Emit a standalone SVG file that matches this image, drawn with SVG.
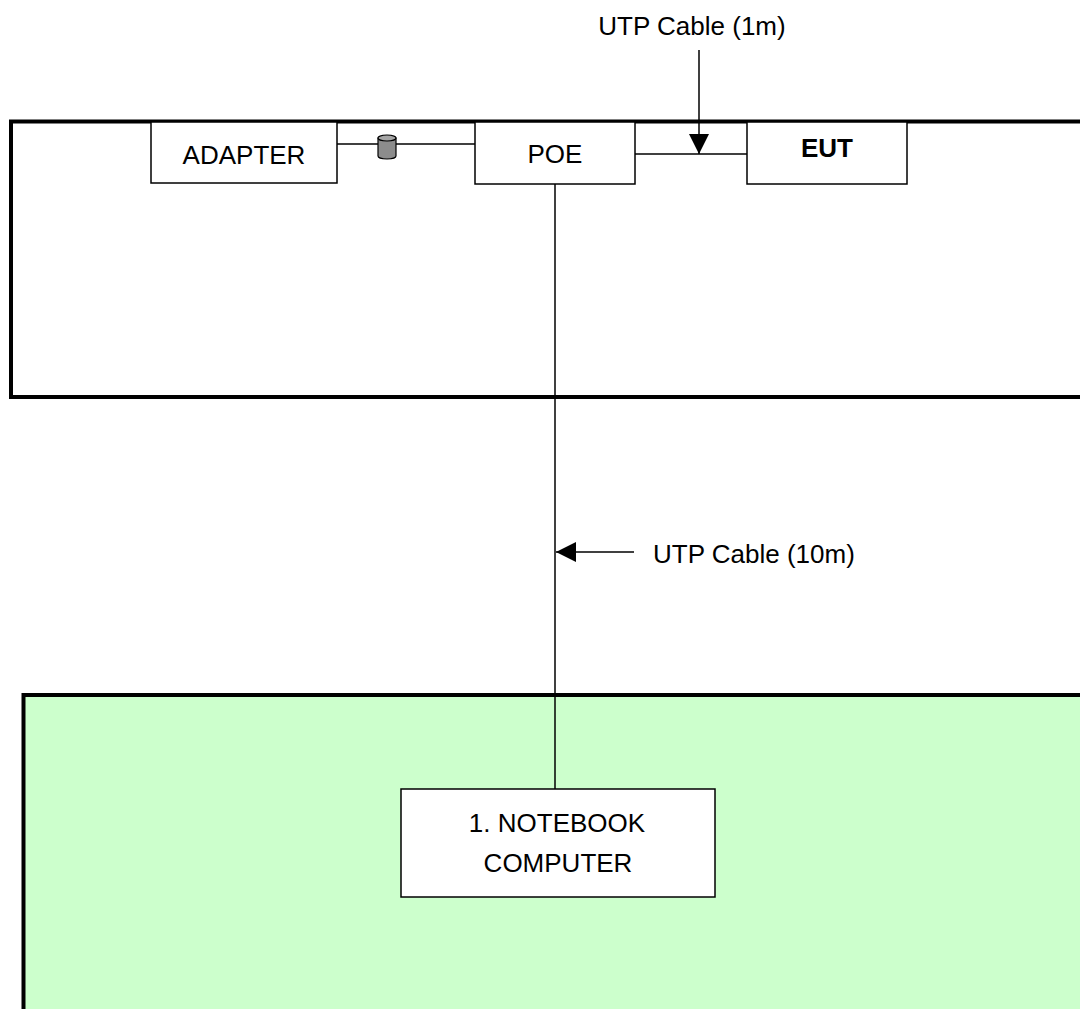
<svg xmlns="http://www.w3.org/2000/svg" width="1080" height="1009" viewBox="0 0 1080 1009">
<style>
.frame{fill:none;stroke:#000;stroke-width:4}
.box{fill:#fff;stroke:#000;stroke-width:1.5}
.ln{fill:none;stroke:#000;stroke-width:1.5}
text{font-family:"Liberation Sans",Arial,sans-serif;font-size:26px;fill:#000}
</style>
<defs>
<marker id="ah" viewBox="0 0 20 20" refX="20" refY="10" markerWidth="20" markerHeight="20" markerUnits="userSpaceOnUse" orient="auto">
<path d="M0,0 L20,10 L0,20 Z" fill="#000"/>
</marker>
</defs>
<rect x="0" y="0" width="1080" height="1009" fill="#fff"/>
<g id="frame-top"><path class="frame" d="M1082,121.5 H11 V397 H1082"/></g>
<g id="frame-bottom"><path d="M1082,695 H23.5 V1012 H1082 Z" fill="#ccffcc"/><path class="frame" d="M1082,695 H23.5 V1012"/></g>
<g id="connectors">
<line class="ln" x1="337" y1="144" x2="475" y2="144"/>
<line class="ln" x1="635" y1="154" x2="747" y2="154"/>
<line class="ln" x1="555" y1="184" x2="555" y2="789"/>
<line class="ln" x1="699" y1="50" x2="699" y2="154" marker-end="url(#ah)"/>
<line class="ln" x1="634" y1="552" x2="556" y2="552" marker-end="url(#ah)"/>
<g id="ferrite"><path d="M378,138 V156 A9,3 0 0 0 396,156 V138 Z" fill="#8c8c8c" stroke="#000" stroke-width="1.2"/><ellipse cx="387" cy="138" rx="9" ry="3" fill="#a6a6a6" stroke="#000" stroke-width="1.2"/></g>
</g>
<g id="adapter"><rect class="box" x="151" y="122" width="186" height="61"/><text x="244" y="164" text-anchor="middle">ADAPTER</text></g>
<g id="poe"><rect class="box" x="475" y="122" width="160" height="62"/><text x="555" y="163" text-anchor="middle">POE</text></g>
<g id="eut"><rect class="box" x="747" y="122" width="160" height="62"/><text x="827" y="157" text-anchor="middle" font-weight="bold">EUT</text></g>
<g id="notebook"><rect class="box" x="401" y="789" width="314" height="108"/><text x="557" y="832" text-anchor="middle">1. NOTEBOOK</text><text x="558" y="872" text-anchor="middle">COMPUTER</text></g>
<g id="label-1m"><text x="692" y="35" text-anchor="middle">UTP Cable (1m)</text></g>
<g id="label-10m"><text x="653" y="563">UTP Cable (10m)</text></g>
</svg>
